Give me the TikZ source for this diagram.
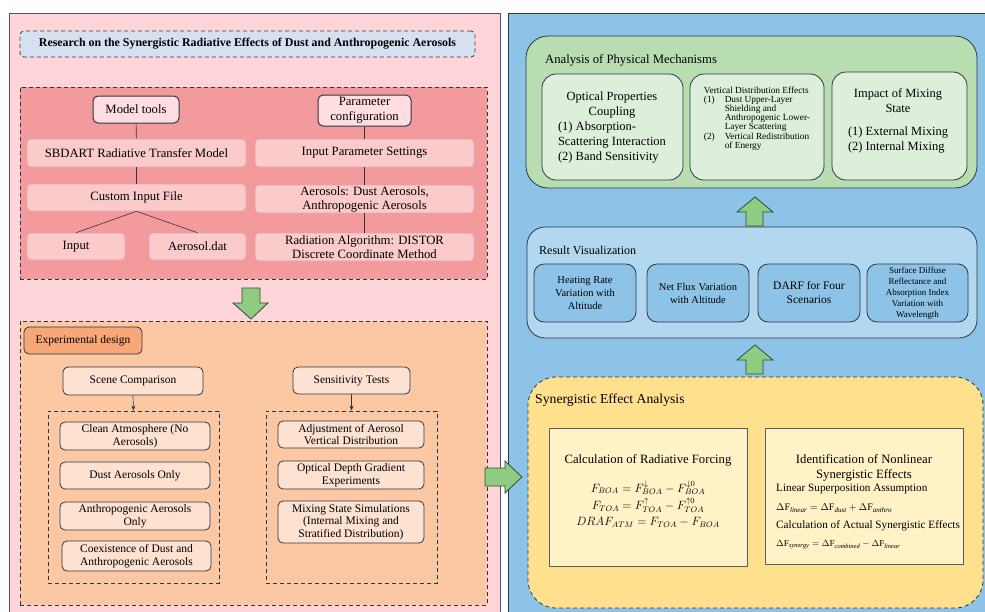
\documentclass[tikz,border=0pt]{standalone}
\usepackage{fontspec}
\setmainfont{Liberation Serif}
\usepackage{array}
\usetikzlibrary{arrows.meta}
\definecolor{pinkbg}{HTML}{FFD5D9}
\definecolor{panelline}{HTML}{44546A}
\definecolor{titlefill}{HTML}{D5E1F1}
\definecolor{redfill}{HTML}{F39B9C}
\definecolor{softpink}{HTML}{FBCBCB}
\definecolor{softline}{HTML}{E3A3A6}
\definecolor{keypink}{HTML}{FFDDE0}
\definecolor{darkline}{HTML}{2E3546}
\definecolor{orangefill}{HTML}{FCC8A4}
\definecolor{orangehead}{HTML}{F8A878}
\definecolor{peach}{HTML}{FDE1D1}
\definecolor{bluebg}{HTML}{8DC3E6}
\definecolor{bluelight}{HTML}{B2D8EF}
\definecolor{greenfill}{HTML}{B8DDB1}
\definecolor{greenlight}{HTML}{DDEFDA}
\definecolor{yellowfill}{HTML}{FFE08C}
\definecolor{yellowlight}{HTML}{FFF2C7}
\definecolor{arrowgreen}{HTML}{8FCC82}
\definecolor{arrowline}{HTML}{2E4A3A}
\begin{document}
\begin{tikzpicture}[x=1pt,y=-1pt,
  sz/.style 2 args={minimum width=#1pt, minimum height=#2pt},
  base/.style={inner sep=1pt, align=center, text=black, font=\fontsize{11.5}{12.5}\selectfont},
  panel/.style={inner sep=0pt, line width=1pt},
  region/.style={inner sep=0pt, draw=darkline, line width=0.8pt, dash pattern=on 4pt off 3pt},
  softbox/.style={base, rounded corners=4pt, fill=softpink, draw=softline, line width=0.6pt, font=\fontsize{12.7}{14}\selectfont},
  keybox/.style={base, rounded corners=5pt, fill=keypink, draw=darkline, line width=1pt, font=\fontsize{12.7}{15}\selectfont},
  peachbox/.style={base, rounded corners=5pt, fill=peach, draw=darkline, line width=0.8pt},
  greenbox/.style={inner sep=0pt, rounded corners=14pt, fill=greenlight, draw=darkline, line width=0.8pt},
  bluebox/.style={base, rounded corners=10pt, fill=bluebg, draw=darkline, line width=0.8pt, font=\fontsize{10.5}{13}\selectfont},
  yellowbox/.style={inner sep=0pt, fill=yellowlight, draw=darkline!80, line width=0.8pt},
  label/.style={inner sep=0pt, align=center, font=\fontsize{12}{15}\selectfont},
  link/.style={draw=darkline, line width=0.6pt},
  blockarrow/.style={fill=arrowgreen, draw=arrowline, line width=0.8pt, line join=miter}
]
\useasboundingbox (0,0) rectangle (985,611);

% ---------- panels ----------
\node[panel, draw=panelline, fill=pinkbg, sz={491}{605}] (leftpanel) at (254.5,315.5) {};
\node[panel, draw=darkline, fill=bluebg, sz={487}{607}] (rightpanel) at (751.5,316.5) {};

% ---------- left: title ----------
\node[region, rounded corners=4pt, fill=titlefill, sz={455}{26}, font=\fontsize{11.9}{13}\selectfont\bfseries] (title) at (247.5,44)
  {Research on the Synergistic Radiative Effects of Dust and Anthropogenic Aerosols};

% ---------- left: model region ----------
\node[region, fill=redfill, sz={467}{192}] (redreg) at (253.5,183) {};
\node[keybox, sz={86}{27}] (model) at (136,109.5) {Model tools};
\node[keybox, sz={93}{31}] (param) at (364.5,110.5) {Parameter\\configuration};
\node[softbox, sz={219}{28}] (sbdart) at (136.5,153) {SBDART Radiative Transfer Model};
\node[softbox, sz={219}{28}] (inparam) at (364.5,153) {Input Parameter Settings};
\node[softbox, sz={219}{27}] (custom) at (136.5,197.5) {Custom Input File};
\node[softbox, sz={219}{28}] (aeros) at (364.5,199) {Aerosols: Dust Aerosols,\\Anthropogenic Aerosols};
\node[softbox, sz={98}{27}] (input) at (76,246.5) {Input};
\node[softbox, sz={97}{27}] (aerodat) at (197.5,246.5) {Aerosol.dat};
\node[softbox, sz={219}{28}] (radalg) at (364.5,247) {Radiation Algorithm: DISTOR\\Discrete Coordinate Method};

\draw[link] (model) -- (sbdart);
\draw[link] (sbdart) -- (custom);
\draw[link] (custom.south) -- (input.north);
\draw[link] (custom.south) -- (aerodat.north);
\draw[link] (param) -- (inparam);
\draw[link] (inparam) -- (aeros);
\draw[link] (aeros) -- (radalg);

% ---------- left: experimental design ----------
\node[region, fill=orangefill, sz={467}{284}] (orreg) at (253.5,463) {};
\node[base, rounded corners=5pt, fill=orangehead, draw=darkline, line width=0.8pt, sz={118}{27}] (expd) at (83,340.5) {Experimental design};
\node[peachbox, sz={140}{28}] (scene) at (133,381) {Scene Comparison};
\node[region, sz={171}{172}] (innerL) at (133.5,497) {};
\node[peachbox, sz={150}{28}] (clean) at (135,436) {Clean Atmosphere (No\\Aerosols)};
\node[peachbox, sz={150}{27}] (dust) at (135,475.5) {Dust Aerosols Only};
\node[peachbox, sz={150}{28}] (anth) at (135,516) {Anthropogenic Aerosols\\Only};
\node[peachbox, sz={149}{30}] (coex) at (136.5,556) {Coexistence of Dust and\\Anthropogenic Aerosols};

\node[peachbox, sz={117}{27}] (sens) at (351.5,380.5) {Sensitivity Tests};
\node[region, sz={171}{172}] (innerR) at (351.5,497) {};
\node[peachbox, sz={146}{27}] (adj) at (351,434.5) {Adjustment of Aerosol\\Vertical Distribution};
\node[peachbox, sz={146}{28}] (optd) at (351,475) {Optical Depth Gradient\\Experiments};
\node[peachbox, sz={146}{42}] (mixs) at (351,522) {Mixing State Simulations\\(Internal Mixing and\\Stratified Distribution)};

\draw[link, -{Stealth[length=5pt,width=4pt]}] (scene.south) -- (innerL.north);
\draw[link, -{Stealth[length=5pt,width=4pt]}] (sens.south) -- (innerR.north);

% ---------- right: analysis of physical mechanisms ----------
\node[inner sep=0pt, rounded corners=22pt, fill=greenfill, draw=darkline, line width=0.8pt, sz={451}{152}] (anreg) at (751.5,112) {};
\node[label, anchor=west, font=\fontsize{12.7}{15}\selectfont] (antitle) at (545,60) {Analysis of Physical Mechanisms};
\node[greenbox, sz={141}{106}] (optic) at (612.5,127) {};
\node[label, font=\fontsize{12.5}{15}\selectfont] (optictext) at (612,128)
  {Optical Properties\\Coupling\\\begin{tabular}[t]{@{}l@{}}(1) Absorption-\\Scattering Interaction\\(2) Band Sensitivity\end{tabular}};
\node[greenbox, sz={134}{106}] (vert) at (757,127) {};
\node[label, align=left, font=\fontsize{9.3}{8.4}\selectfont] (verttext) at (757,119)
  {\renewcommand{\arraystretch}{1}\begin{tabular}{@{}l@{\hspace{10pt}}l@{}}
   \multicolumn{2}{@{}l@{}}{Vertical Distribution Effects}\\[0.6pt]
   (1) & Dust Upper-Layer\\
       & Shielding and\\
       & Anthropogenic Lower-\\
       & Layer Scattering\\[1.2pt]
   (2) & Vertical Redistribution\\
       & of Energy\end{tabular}};
\node[greenbox, sz={135}{108}] (impact) at (899.5,126) {};
\node[label, font=\fontsize{12.5}{15}\selectfont] (impacttext) at (898,121.5)
  {Impact of Mixing\\State\\[8pt]\begin{tabular}[t]{@{}l@{}}(1) External Mixing\\(2) Internal Mixing\end{tabular}};

% ---------- right: result visualization ----------
\node[inner sep=0pt, rounded corners=18pt, fill=bluelight, draw=darkline, line width=0.8pt, sz={450}{111}] (resreg) at (752,282.5) {};
\node[label, anchor=west, font=\fontsize{12}{14}\selectfont] (restitle) at (539,250) {Result Visualization};
\node[bluebox, sz={102}{58}] (heat) at (585,293) {Heating Rate\\Variation with\\Altitude};
\node[bluebox, sz={102}{58}] (netflux) at (698,293) {Net Flux Variation\\with Altitude};
\node[bluebox, sz={102}{58}, font=\fontsize{11.5}{14}\selectfont] (darf) at (809,293) {DARF for Four\\Scenarios};
\node[bluebox, sz={101}{58}, font=\fontsize{9}{11}\selectfont] (surf) at (917.5,293) {Surface Diffuse\\Reflectance and\\Absorption Index\\Variation with\\Wavelength};

% ---------- right: synergistic effect analysis ----------
\node[region, rounded corners=28pt, fill=yellowfill, sz={455}{231}] (synreg) at (755.5,492.5) {};
\node[label, anchor=west, font=\fontsize{13.7}{15}\selectfont] (syntitle) at (535,400) {Synergistic Effect Analysis};
\node[yellowbox, sz={198}{138}] (calc) at (648,497) {};
\node[label, font=\fontsize{12.7}{15}\selectfont] (calctitle) at (648,460) {Calculation of Radiative Forcing};
\node[label, anchor=base, font=\fontsize{11.8}{15}\selectfont] (calcf1) at (648,492)
  {$F_{BOA} = F^{\downarrow}_{BOA} - F^{\downarrow 0}_{BOA}$};
\node[label, anchor=base, font=\fontsize{11.8}{15}\selectfont] (calcf2) at (648,509.5)
  {$F_{TOA} = F^{\uparrow}_{TOA} - F^{\uparrow 0}_{TOA}$};
\node[label, anchor=base, font=\fontsize{11.8}{15}\selectfont] (calcf3) at (648,525.5)
  {$DRAF_{ATM} = F_{TOA} - F_{BOA}$};
\node[yellowbox, sz={198}{136}] (ident) at (864,496) {};
\node[label, font=\fontsize{12.7}{15}\selectfont] (idtitle) at (864,467.5) {Identification of Nonlinear\\Synergistic Effects};
\node[label, anchor=west, font=\fontsize{11.2}{12}\selectfont] (linass) at (776,489) {Linear Superposition Assumption};
\node[label, anchor=west, font=\fontsize{10}{12}\selectfont] (linf) at (776,508)
  {$\Delta\mathrm{F}_{\mathit{linear}} = \Delta\mathrm{F}_{\mathit{dust}} + \Delta\mathrm{F}_{\mathit{anthro}}$};
\node[label, anchor=west, font=\fontsize{11.2}{12}\selectfont] (actcalc) at (776,526) {Calculation of Actual Synergistic Effects};
\node[label, anchor=west, font=\fontsize{9.2}{12}\selectfont] (synf) at (776,545)
  {$\Delta\mathrm{F}_{\mathit{synergy}} = \Delta\mathrm{F}_{\mathit{combined}} - \Delta\mathrm{F}_{\mathit{linear}}$};

% ---------- block arrows ----------
\draw[blockarrow] (242,288) -- (260,288) -- (260,303) -- (268,303) -- (251,319) -- (233,303) -- (242,303) -- cycle;
\draw[blockarrow] (485,468) -- (505,468) -- (505,461) -- (522,477) -- (505,493) -- (505,486) -- (485,486) -- cycle;
\draw[blockarrow] (746,226) -- (746,212) -- (737,212) -- (755,197) -- (773,212) -- (763,212) -- (763,226) -- cycle;
\draw[blockarrow] (746,374) -- (746,360) -- (737,360) -- (755,345) -- (773,360) -- (763,360) -- (763,374) -- cycle;
\end{tikzpicture}
\end{document}
